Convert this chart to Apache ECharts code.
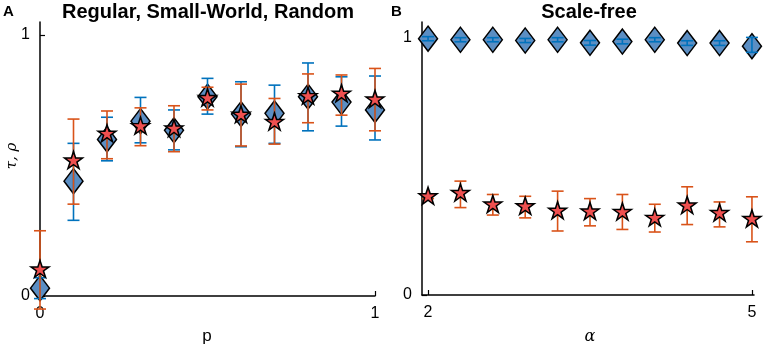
<!DOCTYPE html>
<html>
<head>
<meta charset="utf-8">
<script src="https://cdn.jsdelivr.net/npm/echarts@6/dist/echarts.min.js"></script>
<style>
html,body{margin:0;padding:0;background:#fff;}
#chart{width:765px;height:351px;}
</style>
</head>
<body>
<div id="chart"></div>
<script>
// panel A: regular / small-world / random, x = rewiring prob p
var pVals = [0, 0.1, 0.2, 0.3, 0.4, 0.5, 0.6, 0.7, 0.8, 0.9, 1.0];
var tauA = [0.03, 0.44, 0.60, 0.67, 0.635, 0.764, 0.697, 0.70, 0.764, 0.743, 0.713];
var tauALo = [-0.01, 0.29, 0.518, 0.587, 0.56, 0.697, 0.572, 0.585, 0.633, 0.651, 0.598];
var tauAHi = [0.07, 0.585, 0.685, 0.761, 0.713, 0.834, 0.821, 0.808, 0.893, 0.84, 0.843];
var rhoA = [0.10, 0.517, 0.62, 0.649, 0.64, 0.757, 0.693, 0.665, 0.764, 0.773, 0.751];
var rhoALo = [-0.05, 0.352, 0.526, 0.576, 0.553, 0.713, 0.575, 0.582, 0.664, 0.693, 0.633];
var rhoAHi = [0.25, 0.678, 0.709, 0.721, 0.729, 0.80, 0.812, 0.757, 0.851, 0.847, 0.872];

// panel B: scale-free, x = exponent alpha
var alphaVals = [2, 2.3, 2.6, 2.9, 3.2, 3.5, 3.8, 4.1, 4.4, 4.7, 5];
var tauB = [0.997, 0.993, 0.993, 0.99, 0.993, 0.981, 0.986, 0.993, 0.98, 0.98, 0.968];
var tauBLo = [0.989, 0.985, 0.985, 0.982, 0.985, 0.972, 0.977, 0.985, 0.971, 0.971, 0.944];
var tauBHi = [1.005, 1.001, 1.001, 0.998, 1.001, 0.990, 0.995, 1.001, 0.989, 0.989, 1.002];
var rhoB = [0.382, 0.395, 0.35, 0.343, 0.326, 0.323, 0.321, 0.298, 0.346, 0.317, 0.294];
var rhoBLo = [0.375, 0.34, 0.311, 0.30, 0.249, 0.269, 0.255, 0.245, 0.274, 0.265, 0.207];
var rhoBHi = [0.39, 0.443, 0.391, 0.384, 0.404, 0.375, 0.391, 0.353, 0.421, 0.362, 0.382];

var BLUE = '#0072BD';
var ORANGE = '#D95319';
var starPath = 'path://M50 0 L61.23 34.55 L97.55 34.55 L68.17 55.9 L79.39 90.45 L50 69.1 L20.61 90.45 L31.83 55.9 L2.45 34.55 L38.77 34.55 Z';
var font = 'Liberation Sans, Arial, sans-serif';

function zip(xs, ys) {
  return xs.map(function (x, i) { return [x, ys[i]]; });
}
function bars(xs, lo, hi) {
  return xs.map(function (x, i) { return [x, lo[i], hi[i]]; });
}

function errorBars(color) {
  return function (params, api) {
    var lo = api.coord([api.value(0), api.value(1)]);
    var hi = api.coord([api.value(0), api.value(2)]);
    var w = 6;
    var st = {stroke: color, lineWidth: 1.6};
    return {
      type: 'group',
      children: [
        {type: 'line', shape: {x1: lo[0], y1: lo[1], x2: hi[0], y2: hi[1]}, style: st},
        {type: 'line', shape: {x1: lo[0] - w, y1: lo[1], x2: lo[0] + w, y2: lo[1]}, style: st},
        {type: 'line', shape: {x1: hi[0] - w, y1: hi[1], x2: hi[0] + w, y2: hi[1]}, style: st}
      ]
    };
  };
}

function axisCommon(vals) {
  return {
    axisLine: {show: true, onZero: false, lineStyle: {color: '#000', width: 1.5}},
    axisTick: {show: true, inside: true, length: 5, customValues: vals, lineStyle: {color: '#000', width: 1.2}},
    axisLabel: {customValues: vals, color: '#000', fontSize: 16, fontFamily: font, margin: 10},
    splitLine: {show: false}
  };
}

function panelSeries(idx, xs, tau, tLo, tHi, rho, rLo, rHi) {
  return [
    {
      type: 'scatter', xAxisIndex: idx, yAxisIndex: idx, clip: false, z: 2,
      data: zip(xs, tau), symbol: 'diamond', symbolSize: [19, 25],
      itemStyle: {color: '#5b8ec3', borderColor: '#000', borderWidth: 1.5, opacity: 1}
    },
    {
      type: 'custom', xAxisIndex: idx, yAxisIndex: idx, clip: false, z: 3,
      data: bars(xs, tLo, tHi), renderItem: errorBars(BLUE),
      encode: {x: 0, y: [1, 2]}
    },
    {
      type: 'custom', xAxisIndex: idx, yAxisIndex: idx, clip: false, z: 4,
      data: bars(xs, rLo, rHi), renderItem: errorBars(ORANGE),
      encode: {x: 0, y: [1, 2]}
    },
    {
      type: 'scatter', xAxisIndex: idx, yAxisIndex: idx, clip: false, z: 5,
      data: zip(xs, rho), symbol: starPath, symbolSize: [18, 17], symbolOffset: [0, -1],
      itemStyle: {color: '#ef5050', borderColor: '#000', borderWidth: 1.5, opacity: 1}
    }
  ];
}

var chart = echarts.init(document.getElementById('chart'));

var xA = Object.assign(axisCommon([0, 1]), {type: 'value', gridIndex: 0, min: 0, max: 1});
var yA = Object.assign(axisCommon([0, 1]), {type: 'value', gridIndex: 0, min: 0, max: 1.05});
var xB = Object.assign(axisCommon([2, 5]), {type: 'value', gridIndex: 1, min: 1.944, max: 5.019});
var yB = Object.assign(axisCommon([0, 1]), {type: 'value', gridIndex: 1, min: 0, max: 1.062});

var option = {
  animation: false,
  backgroundColor: '#fff',
  grid: [
    {left: 40, top: 22, width: 335, height: 274},
    {left: 422, top: 22, width: 332, height: 273}
  ],
  xAxis: [xA, xB],
  yAxis: [yA, yB],
  series: panelSeries(0, pVals, tauA, tauALo, tauAHi, rhoA, rhoALo, rhoAHi)
    .concat(panelSeries(1, alphaVals, tauB, tauBLo, tauBHi, rhoB, rhoBLo, rhoBHi)),
  graphic: [
    {type: 'text', left: 3, top: 4, style: {text: 'A', font: 'bold 15px ' + font, fill: '#000'}},
    {type: 'text', left: 391, top: 4, style: {text: 'B', font: 'bold 15px ' + font, fill: '#000'}},
    {type: 'text', x: 208, y: 12, style: {text: 'Regular, Small-World, Random', font: 'bold 20px ' + font, fill: '#000', align: 'center', verticalAlign: 'middle'}},
    {type: 'text', x: 589, y: 12, style: {text: 'Scale-free', font: 'bold 20px ' + font, fill: '#000', align: 'center', verticalAlign: 'middle'}},
    {type: 'text', x: 12, y: 156, rotation: Math.PI / 2, style: {text: 'τ, ρ', font: 'italic 15px DejaVu Serif, serif', fill: '#000', align: 'center', verticalAlign: 'middle'}},
    {type: 'text', x: 207, y: 336, style: {text: 'p', font: '17px ' + font, fill: '#000', align: 'center', verticalAlign: 'middle'}},
    {type: 'text', x: 590, y: 337, style: {text: 'α', font: 'italic 16px DejaVu Serif, serif', fill: '#000', align: 'center', verticalAlign: 'middle'}}
  ]
};

chart.setOption(option);
</script>
</body>
</html>
